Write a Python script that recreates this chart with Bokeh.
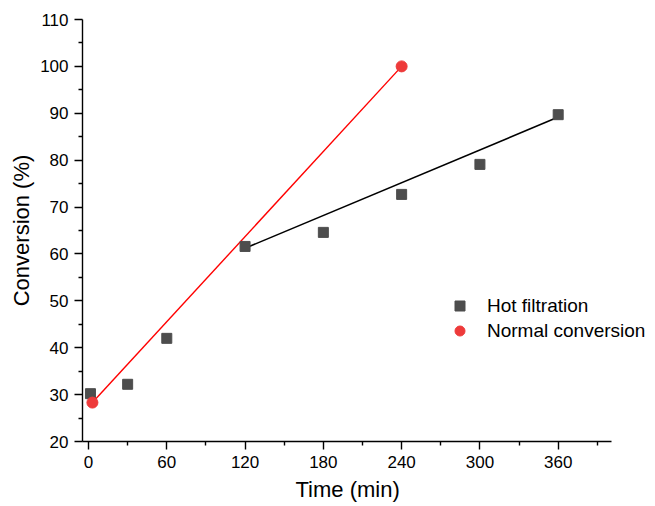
from bokeh.plotting import figure
from bokeh.models import Range1d, FixedTicker, Legend, LegendItem, Title
from bokeh.embed import file_html
from bokeh.resources import INLINE

# Data
hot_time = [1.5, 30, 60, 120, 180, 240, 300, 360]
hot_conv = [30.2, 32.2, 42.0, 61.6, 64.6, 72.7, 79.1, 89.7]
hot_fit_time = [119, 361]
hot_fit_conv = [61.1, 89.3]
normal_time = [3, 240]
normal_conv = [28.3, 100.0]
x_ticks = [0, 60, 120, 180, 240, 300, 360]
x_minor = [30, 90, 150, 210, 270, 330, 390]
y_ticks = [20, 30, 40, 50, 60, 70, 80, 90, 100, 110]
y_minor = [25, 35, 45, 55, 65, 75, 85, 95, 105]

FONT = "Liberation Sans"
X_START, X_AXIS_END = -4.6, 401
PX_PER_MIN = 1.3047
FRAME_LEFT = 82
X_VIEW_END = X_START + (655 - FRAME_LEFT) / PX_PER_MIN

p = figure(width=655, height=506, output_backend="svg", toolbar_location=None,
           x_range=Range1d(X_START, X_VIEW_END), y_range=Range1d(20, 110),
           min_border_left=FRAME_LEFT, min_border_right=0, min_border_top=19, min_border_bottom=65)
p.outline_line_color = None
p.grid.visible = False
p.background_fill_color = "white"
p.border_fill_color = "white"

p.xaxis.ticker = FixedTicker(ticks=x_ticks, minor_ticks=x_minor)
p.yaxis.ticker = FixedTicker(ticks=y_ticks, minor_ticks=y_minor)
p.xaxis.bounds = (X_START, X_AXIS_END)
for ax in (p.xaxis[0], p.yaxis[0]):
    ax.axis_line_width = 1.4
    ax.axis_line_color = "black"
    ax.major_tick_line_width = 1.4
    ax.minor_tick_line_width = 1.4
    ax.major_tick_line_color = "black"
    ax.minor_tick_line_color = "black"
    ax.major_tick_out = 8
    ax.major_tick_in = 0
    ax.minor_tick_out = 4
    ax.minor_tick_in = 0
    ax.major_label_text_font = FONT
    ax.major_label_text_font_size = "17px"
    ax.major_label_text_color = "black"
    ax.axis_label_text_font = FONT
    ax.axis_label_text_font_size = "22px"
    ax.axis_label_text_font_style = "normal"
    ax.axis_label_text_color = "black"
    ax.major_label_standoff = 6

p.yaxis.axis_label = "Conversion (%)"
p.yaxis.axis_label_standoff = 3

# x-axis title placed under the drawn axis line (frame extends further right for the legend)
x_title = Title(text="Time (min)", align="left", offset=213, text_font=FONT,
                text_font_size="22px", text_font_style="normal", text_color="black",
                standoff=9)
p.add_layout(x_title, "below")

fit_hot = p.line(hot_fit_time, hot_fit_conv, line_color="black", line_width=1.6)
fit_norm = p.line(normal_time, normal_conv, line_color="#ff0000", line_width=1.4)
r_hot = p.scatter(hot_time, hot_conv, marker="square", size=10, fill_color="#4d4d4d",
                  line_color="#4d4d4d")
r_norm = p.scatter(normal_time, normal_conv, marker="circle", size=11, fill_color="#ee3a3a",
                   line_color="#ee3a3a")

legend = Legend(items=[LegendItem(label="Hot filtration", renderers=[r_hot]),
                       LegendItem(label="Normal conversion", renderers=[r_norm])],
                location=(365, 98), orientation="vertical")
legend.border_line_color = None
legend.background_fill_alpha = 0
legend.padding = 0
legend.margin = 0
legend.spacing = 0
legend.glyph_width = 25
legend.glyph_height = 25
legend.label_height = 25
legend.label_standoff = 15
legend.label_text_font = FONT
legend.label_text_font_size = "19px"
legend.label_text_color = "black"
p.add_layout(legend, "center")

open("out.html", "w").write(file_html(p, INLINE))
